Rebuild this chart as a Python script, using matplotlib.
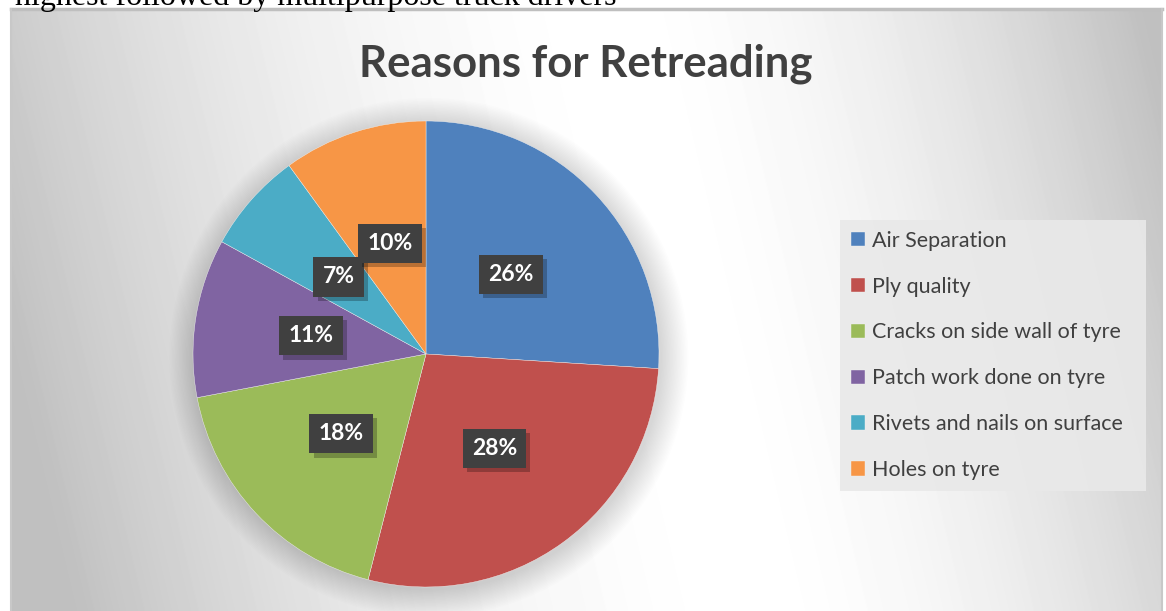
import numpy as np
import matplotlib.pyplot as plt
import matplotlib.patheffects as pe
from matplotlib.patches import Circle

reasons = ["Air Separation", "Ply quality", "Cracks on side wall of tyre",
           "Patch work done on tyre", "Rivets and nails on surface", "Holes on tyre"]
shares = [26, 28, 18, 11, 7, 10]
colors = ["#4f81bd", "#c0504d", "#9bbb59", "#8064a2", "#4bacc6", "#f79646"]

W, H = 1166, 611
fig = plt.figure(figsize=(W / 100, H / 100), dpi=100)
fig.patch.set_facecolor("white")

# text of the page above the chart (cut off)
fig.text(15 / W, 1 - 5 / H, "highest followed by multipurpose truck drivers",
         family="Liberation Serif", fontsize=23, color="black", va="baseline", ha="left")

# chart area with a soft gradient
x0, y0 = 11, 9
bg = fig.add_axes([x0 / W, 0, (1162 - x0) / W, (H - y0) / H])
bg.set_axis_off()
xx, yy = np.meshgrid(np.arange(x0, 1162), np.arange(y0, H))
lx = 610 + (yy - 10) * 140 / 590
d = (xx - lx) * np.cos(np.radians(13))
f = np.where(d < 0, -d / 660, d / 520)
f = np.clip(f, 0, 1) ** 1.8
grey = 1 - (1 - 192 / 255) * f
bg.imshow(grey, cmap="gray", vmin=0, vmax=1, extent=[0, 1, 0, 1], aspect="auto",
          interpolation="bilinear")
bg.set_xlim(0, 1)
bg.set_ylim(0, 1)
bg.plot([0, 1], [1, 1], color="#bfbfbf", lw=2.5, transform=bg.transAxes, clip_on=False)
bg.plot([0, 0], [0, 1], color="#c8c8c8", lw=1.5, transform=bg.transAxes, clip_on=False)
bg.plot([1, 1], [0, 1], color="#c8c8c8", lw=1.5, transform=bg.transAxes, clip_on=False)

fig.text(586 / W, 1 - 77 / H, "Reasons for Retreading", family="Lato", weight="bold",
         fontsize=31.5, color="#404040", ha="center", va="baseline")

# pie
ax = fig.add_axes([193 / W, 1 - 587 / H, 466 / W, 466 / H])
ax.set_axis_off()
for i in range(20):
    ax.add_patch(Circle((0.012, -0.015), 1.0 + 0.006 * i, color="black", alpha=0.008,
                        lw=0, clip_on=False))
wedges, texts, autotexts = ax.pie(
    shares, colors=colors, startangle=90, counterclock=False, radius=1,
    autopct="%d%%", pctdistance=0.5,
    wedgeprops=dict(edgecolor="#f0f0f0", linewidth=0.3),
    textprops=dict(color="white", family="Lato", weight="bold", fontsize=16.5))
ax.set_xlim(-1, 1)
ax.set_ylim(-1, 1)
ax.set_aspect("equal")
for t in autotexts:
    t.set_bbox(dict(boxstyle="square,pad=0.4", facecolor="#404040", edgecolor="none"))
    t.get_bbox_patch().set_path_effects(
        [pe.SimplePatchShadow(offset=(3, -3), shadow_rgbFace="black", alpha=0.25),
         pe.Normal()])

leg = fig.legend(wedges, reasons, loc="upper left",
                 bbox_to_anchor=(840 / W, 1 - 220 / H - 0.01, (1146 - 840) / W, 0.01),
                 mode="expand", borderaxespad=0, frameon=True, fancybox=False,
                 prop=dict(family="Lato", size=15.5), labelcolor="#404040",
                 handlelength=0.65, handleheight=0.65, handletextpad=0.33,
                 labelspacing=1.2, borderpad=0.5)
leg.get_frame().set_facecolor("#e9e9e9")
leg.get_frame().set_edgecolor("none")
leg.get_frame().set_alpha(0.9)

fig.savefig("out.png", dpi=100)
